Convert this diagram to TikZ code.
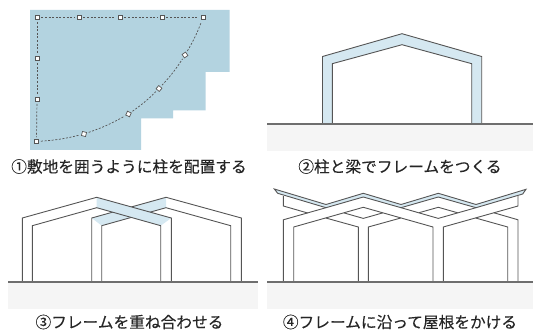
\documentclass[tikz,border=0pt]{standalone}
\usepackage{fontspec}
\setmainfont[FakeBold=0.2]{Noto Sans CJK JP}
\usepackage{tikz}
\definecolor{siteblue}{HTML}{B3D3E0}
\definecolor{framefill}{HTML}{D5E8F1}
\definecolor{groundfill}{HTML}{F5F5F5}
\definecolor{framegray}{HTML}{555555}
\tikzset{
  frameline/.style={draw=framegray,line width=0.9pt,line join=miter},
  groundline/.style={draw=framegray!85,line width=1.6pt},
  captiontext/.style={font=\fontsize{15.7}{16}\selectfont,text=black!85,inner sep=0pt,anchor=center},
  postsquare/.style={draw=framegray,fill=white,line width=0.7pt,minimum size=4.2pt,inner sep=0pt,rectangle},
  postlink/.style={draw=framegray,line width=0.7pt,dash pattern=on 2pt off 1.6pt,shorten >=2pt,shorten <=2pt},
}
\begin{document}
\begin{tikzpicture}[x=1pt,y=-1pt]
  \useasboundingbox (0,0) rectangle (533,334);

  % panel 1
  \fill[siteblue] (30,10) -- (229.5,10) -- (229.5,72) -- (205.5,72) -- (205.5,110.5) -- (173,110.5)
    -- (173,118.5) -- (141,118.5) -- (141,150) -- (30,150) -- cycle;
  \node[postsquare] (p1) at (37,17.5) {};
  \node[postsquare] (p2) at (79,17.5) {};
  \node[postsquare] (p3) at (120,17.5) {};
  \node[postsquare] (p4) at (162,17.5) {};
  \node[postsquare] (p5) at (203,17.5) {};
  \node[postsquare] (p6) at (37,58.5) {};
  \node[postsquare] (p7) at (37,99.5) {};
  \node[postsquare] (p8) at (36.5,141.5) {};
  \node[postsquare,rotate=-15] (p9) at (84,134) {};
  \node[postsquare,rotate=-25] (p10) at (128.5,114) {};
  \node[postsquare,rotate=-40] (p11) at (159,88.5) {};
  \node[postsquare,rotate=-55] (p12) at (185,55) {};
  \foreach \a/\b in {p1/p2,p2/p3,p3/p4,p4/p5,p1/p6,p6/p7,p7/p8}
    \draw[postlink] (\a) -- (\b);
  \foreach \a/\b in {p8/p9,p9/p10,p10/p11,p11/p12,p12/p5}
    \draw[postlink] (\a) to[bend right=5] (\b);
  \node[captiontext] (cap1) at (129,166.5) {①敷地を囲うように柱を配置する};

  % panel 2
  \fill[groundfill] (267,124) rectangle (533,151);
  \draw[frameline,fill=framefill] (322.5,124) -- (322.5,56.5) -- (402,33.7) -- (481.7,56.5) -- (481.7,124)
    -- (471.7,124) -- (471.7,63.7) -- (402,44.7) -- (332.3,63.7) -- (332.3,124) -- cycle;
  \draw[groundline] (267,124) -- (533,124);
  \node[captiontext] (cap2) at (400,166.5) {②柱と梁でフレームをつくる};

  % panel 3
  \fill[groundfill] (8,282) rectangle (258,309);
  \fill[framefill] (166,197.3) -- (91.7,218) -- (101.7,225.7) -- (166,207.7) -- cycle;
  \draw[frameline] (91.7,282) -- (91.7,218) -- (166,197.3) -- (241.3,218) -- (241.3,282);
  \draw[frameline] (101.7,282) -- (101.7,225.7) -- (166,207.7) -- (230.7,225.7) -- (230.7,282);
  \fill[framefill] (96.7,197.3) -- (171.3,218) -- (160.7,225.7) -- (96.7,207.7) -- cycle;
  \draw[frameline] (22.3,282) -- (22.3,218) -- (96.7,197.3) -- (171.3,218) -- (171.3,282);
  \draw[frameline] (32.3,282) -- (32.3,225.7) -- (96.7,207.7) -- (160.7,225.7) -- (160.7,282);
  \draw[groundline] (8,282) -- (258,282);
  \node[captiontext] (cap3) at (129.5,322) {③フレームを重ね合わせる};

  % panel 4
  \fill[groundfill] (267,282) rectangle (533,309);
  % columns and long roof lines
  \draw[frameline] (283.3,282) -- (283.3,219.8) -- (326,207.7);
  \draw[frameline] (293.7,282) -- (293.7,227) -- (363.3,207.3) -- (433,227) -- (433,282);
  \draw[frameline] (358.3,282) -- (358.3,227) -- (325.8,218);
  \draw[frameline] (368.3,282) -- (368.3,227) -- (400.8,218);
  \draw[frameline] (443.3,282) -- (443.3,227) -- (518,206) -- (518,196);
  \draw[frameline] (507.7,282) -- (507.7,227) -- (475.6,218);
  \draw[frameline] (518,282) -- (518,219.8) -- (493.9,212.8);
  % short pieces between the frames
  \draw[frameline] (283.3,196) -- (283.3,206) -- (307.7,213);
  \draw[frameline] (343.9,212.9) -- (363.3,218.4) -- (382.7,212.9);
  \draw[frameline] (401,207.7) -- (438.3,218.4) -- (476,207.7);
  \draw[frameline] (419,212.7) -- (438.3,207.3) -- (457.7,212.8);
  % roof
  \draw[frameline,fill=framefill] (274.3,189) -- (326,204.5) -- (363.3,193.3) -- (401,204.5) -- (438.3,193.3)
    -- (476,204.5) -- (526,189.3) -- (522.7,194) -- (476,207.7) -- (438.3,197) -- (401,207.7)
    -- (363.3,197) -- (326,207.7) -- (277.7,193.3) -- cycle;
  \draw[groundline] (267,282) -- (533,282);
  \node[captiontext] (cap4) at (400,322) {④フレームに沿って屋根をかける};
\end{tikzpicture}
\end{document}
